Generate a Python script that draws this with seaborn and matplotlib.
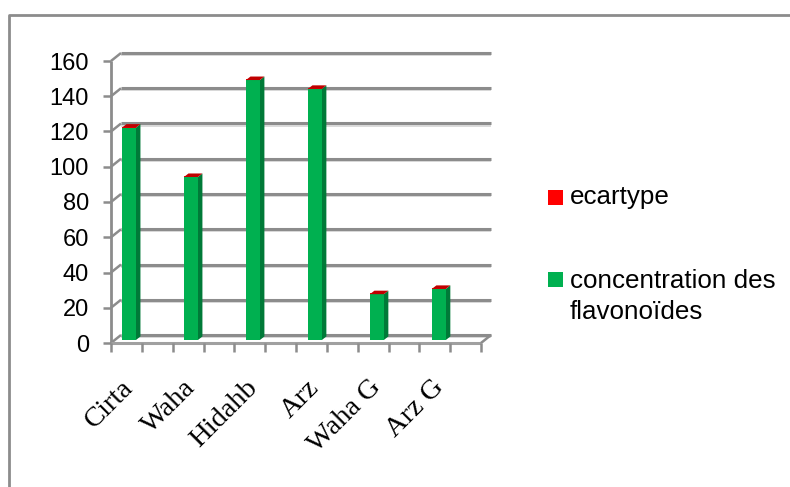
import matplotlib
matplotlib.use("Agg")
import matplotlib.pyplot as plt
import seaborn as sns
import pandas as pd
from matplotlib.patches import Polygon, Rectangle
from matplotlib.lines import Line2D
from matplotlib.transforms import Affine2D

categories = ["Cirta", "Waha", "Hidahb", "Arz", "Waha G", "Arz G"]
concentration = [120.5, 92.5, 147.5, 142.5, 26, 29]
ecartype = [0.6, 0.6, 0.6, 0.6, 0.6, 0.6]
yticks = [0, 20, 40, 60, 80, 100, 120, 140, 160]
legend_labels = ["ecartype", "concentration des\nflavonoïdes"]

W, H = 790, 487
GREEN, DARK, RED, TOP = "#00B050", "#007A38", "#FF0000", "#C00000"
GRID = "#8C8C8C"
SHADE = "#DADADA"
SANS = "Liberation Sans"

sns.set_theme(style="white")
plt.rcParams["font.family"] = SANS
fig = plt.figure(figsize=(W / 100, H / 100), dpi=100, facecolor="white")

def px(x, y):
    return (x / W, 1 - y / H)

# front plane of the chart
L, R, T, B = 111, 481, 61, 343
ax = fig.add_axes([L / W, 1 - B / H, (R - L) / W, (B - T) / H])
ax.patch.set_alpha(0)
df = pd.DataFrame({"cat": categories, "conc": concentration, "ec": ecartype})
df["total"] = df["conc"] + df["ec"]
sns.barplot(data=df, x="cat", y="total", color=RED, width=0.225, saturation=1, ax=ax, zorder=4)
sns.barplot(data=df, x="cat", y="conc", color=GREEN, width=0.225, saturation=1, ax=ax, zorder=5)
ax.set_xlim(-0.29, 5.68)
ax.set_ylim(0, 160)
ax.set_xlabel("")
ax.set_ylabel("")

to_disp = ax.transData
shift = Affine2D().translate(0, 3)
DX, DY = 4.5, 3.5
n = len(categories)
red_bars, green_bars = ax.patches[:n], ax.patches[n:]
for bar in red_bars + green_bars:
    bar.set_transform(to_disp + shift)
    bar.set_edgecolor("none")
for bar in green_bars:
    x0, w, h = bar.get_x(), bar.get_width(), bar.get_height()
    (xl, yb), (xr, yt) = to_disp.transform([(x0, 0), (x0 + w, h)])
    yb += 3
    yt += 3
    side = Polygon([(xr, yb), (xr + DX, yb + DY), (xr + DX, yt + DY), (xr, yt)],
                   closed=True, transform=None, fc=DARK, ec="none", zorder=4, clip_on=False)
    top = Polygon([(xl, yt), (xr, yt), (xr + DX, yt + DY), (xl + DX, yt + DY)],
                  closed=True, transform=None, fc=TOP, ec="none", zorder=6, clip_on=False)
    ax.add_patch(side)
    ax.add_patch(top)

# axes frame styling
for s in ax.spines.values():
    s.set_visible(False)
ax.set_yticks(yticks)
ax.set_yticklabels([str(v) for v in yticks], fontsize=17, color="black", family=SANS)
ax.tick_params(axis="y", length=0, pad=16)
ax.set_xticks(range(n))
ax.set_xticklabels(categories, rotation=45, ha="right", rotation_mode="anchor",
                   fontsize=20.5, family="Liberation Serif", color="black")
ax.tick_params(axis="x", length=0, pad=23)
for lab in ax.get_xticklabels():
    lab.set_transform(lab.get_transform() + Affine2D().translate(-8, 0))

def seg(xs, ys, color=GRID, lw=1.8, z=2):
    ax.add_line(Line2D(xs, ys, transform=None, color=color, lw=lw, zorder=z,
                       clip_on=False, solid_capstyle="butt"))

# back wall gridlines, side wall and floor
OX, OY = 10, 8
xa, xb = ax.get_xlim()
for v in yticks:
    (x0, y0), (x1, _) = to_disp.transform([(xa, v), (xb, v)])
    seg([x0 + OX, x1 + OX], [y0 + OY - 2.2, y0 + OY - 2.2], SHADE, 1.4, 1)
    seg([x0 + OX, x1 + OX], [y0 + OY, y0 + OY], GRID, 2.2, 1)
    seg([x0, x0 + OX], [y0, y0 + OY])
    seg([x0 - 8, x0], [y0, y0])
(x0, y0), (x1, y1) = to_disp.transform([(xa, 0), (xa, 160)])
seg([x0, x1], [y0, y1], lw=2)
(x0, y0), (x1, y1) = to_disp.transform([(xa, 0), (xb, 0)])
seg([x0, x1], [y0, y1], "#A0A0A0", 2.2)
seg([x1, x1 + OX], [y1, y1 + OY])
for i in range(13):
    xt = x0 + (x1 - x0) * i / 12
    seg([xt, xt], [y0, y0 - 9])

# chart border
fig.add_artist(Line2D([9 / W, 9 / W, 1], [0, 1 - 15 / H, 1 - 15 / H], color=GRID, lw=2))

# legend
for (yy, col) in [(190, RED), (272, GREEN)]:
    xy = px(548, yy + 15)
    fig.add_artist(Rectangle(xy, 15 / W, 15 / H, transform=fig.transFigure, fc=col, ec="none"))
fig.text(*px(570, 197), legend_labels[0], fontsize=18.7, va="center", color="black")
fig.text(*px(570, 269), legend_labels[1], fontsize=18.7, va="top", color="black", linespacing=1.35)

fig.savefig("out.png", dpi=100)
